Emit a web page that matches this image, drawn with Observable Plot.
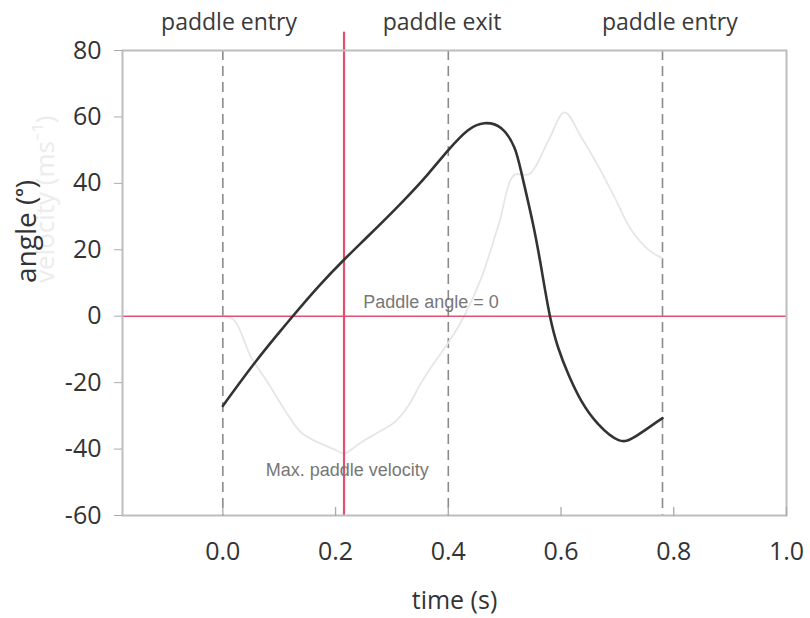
<!DOCTYPE html>
<html>
<head>
<meta charset="utf-8">
<script src="https://cdn.jsdelivr.net/npm/d3@7"></script>
<script src="https://cdn.jsdelivr.net/npm/@observablehq/plot@0.6"></script>
<style>
  html, body { margin: 0; padding: 0; background: #fff; }
  svg { overflow: visible; }
</style>
</head>
<body>
<div id="chart"></div>
<script>
// ---- data ----
const angleTime = [0, 0.055, 0.098, 0.124, 0.17, 0.215, 0.257, 0.316, 0.364, 0.4, 0.435, 0.464, 0.494, 0.517, 0.53, 0.55, 0.565, 0.58, 0.595, 0.613, 0.636, 0.666, 0.702, 0.73, 0.76, 0.78];
const angleValue = [-27, -14.4, -5.3, 0, 9, 17, 24, 34, 42.8, 50, 56, 58.1, 56.6, 50.9, 43, 28, 14.5, 0.3, -9.5, -17.5, -25.5, -32.5, -37.3, -36.4, -33, -30.7];

const velocityTime = [0, 0.02, 0.05, 0.08, 0.109, 0.139, 0.169, 0.197, 0.215, 0.245, 0.275, 0.304, 0.329, 0.352, 0.375, 0.4, 0.428, 0.459, 0.49, 0.517, 0.544, 0.578, 0.606, 0.636, 0.667, 0.695, 0.725, 0.756, 0.779];
const velocityValue = [0, -1.2, -12.3, -20, -28, -35, -38, -40, -41.3, -38, -35, -32, -27, -20, -14, -8, 0, 11.7, 28, 42.5, 42.8, 53, 61.4, 53.9, 44.9, 35.8, 25.9, 19.9, 17.5];

const phaseTimes = [0, 0.4, 0.78];
const phaseLabels = ["paddle entry", "paddle exit", "paddle entry"];
const phaseLabelX = [0.011, 0.389, 0.793];

const maxVelocityTime = 0.215;
const xTicks = [0.0, 0.2, 0.4, 0.6, 0.8, 1.0];
const yTicks = [-60, -40, -20, 0, 20, 40, 60, 80];
const xDomain = [-0.178, 1.0];
const yDomain = [-60, 80];

const angleData = angleTime.map((t, i) => ({t, v: angleValue[i]}));
const velocityData = velocityTime.map((t, i) => ({t, v: velocityValue[i]}));

const RED = "#e2506f";
const FONT = "'Open Sans', Lato, sans-serif";
const ANNOT_FONT = "'Liberation Sans', Arial, sans-serif";
const lineShape = {draw(ctx, l) { ctx.moveTo(0, 0); ctx.lineTo(0, -l); }};

const chart = Plot.plot({
  width: 810,
  height: 618,
  marginLeft: 122,
  marginRight: 24,
  marginTop: 50,
  marginBottom: 103,
  style: {fontFamily: FONT, background: "#fff", color: "#333"},
  x: {type: "linear", domain: xDomain},
  y: {type: "linear", domain: yDomain},
  marks: [
    Plot.ruleX(phaseTimes, {stroke: "#8a8a8a", strokeWidth: 1.6, strokeDasharray: "10,6"}),
    Plot.line(velocityData, {x: "t", y: "v", curve: "catmull-rom", stroke: "#e6e6e6", strokeWidth: 1.8}),
    Plot.ruleY([0], {stroke: RED, strokeWidth: 1.6}),
    Plot.ruleX([maxVelocityTime], {stroke: RED, strokeWidth: 2.2}),
    Plot.vector([maxVelocityTime], {x: d => d, y: yDomain[1], length: 18, anchor: "start", stroke: RED, strokeWidth: 2.2, shape: lineShape}),
    Plot.line(angleData, {x: "t", y: "v", curve: "natural", stroke: "#333", strokeWidth: 2.6}),
    Plot.text(["Paddle angle = 0"], {x: 0.249, y: 0, dy: -14, textAnchor: "start", fill: "#777", fontSize: 18, fontFamily: ANNOT_FONT}),
    Plot.text(["Max. paddle velocity"], {x: 0.076, y: -46.4, textAnchor: "start", fill: "#777", fontSize: 18, fontFamily: ANNOT_FONT}),
    Plot.text(phaseLabels, {x: (d, i) => phaseLabelX[i], frameAnchor: "top", lineAnchor: "middle", dy: -28, fill: "#3a3a3a", fontSize: 23}),
    Plot.frame({stroke: "#bdbdbd", strokeWidth: 2}),
    Plot.axisY({ticks: yTicks, tickFormat: d => String(d), tickSize: 8, tickPadding: 13, fontSize: 25, label: null, stroke: "#aaa", fill: "#333"}),
    Plot.axisX({ticks: xTicks, tickFormat: d => d.toFixed(1), tickSize: 0, tickPadding: 27, fontSize: 25, label: null, fill: "#333"}),
    Plot.vector(xTicks, {x: d => d, y: yDomain[0], length: 8, anchor: "start", stroke: "#aaa", strokeWidth: 1.3, shape: lineShape}),
    Plot.text(["time (s)"], {frameAnchor: "bottom", lineAnchor: "middle", dy: 85, fontSize: 25, fill: "#333"}),
    Plot.text(["velocity (ms\u207B\u00B9)"], {frameAnchor: "left", dx: -77, rotate: -90, fontSize: 26, fill: "#ececec"}),
    Plot.text(["angle (\u1D52)"], {frameAnchor: "left", dx: -95, rotate: -90, fontSize: 28, fill: "#333"})
  ]
});
document.getElementById("chart").appendChild(chart);
</script>
</body>
</html>
